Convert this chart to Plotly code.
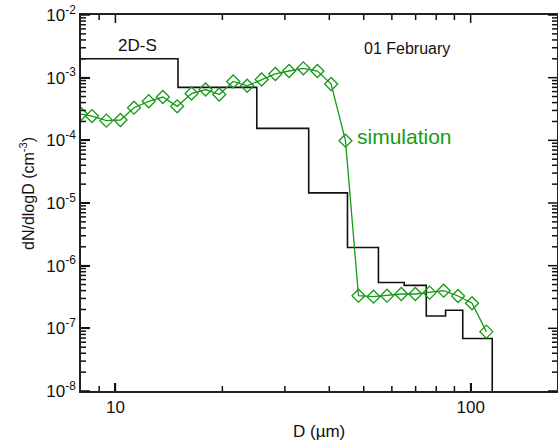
import math
import plotly.graph_objects as go

# ---- data ----
# 2D-S measured size distribution (bin edges in um, dN/dlogD in cm^-3)
obs_edges = [5, 15, 25, 35, 45, 55, 65, 75, 85, 95, 105, 115]
obs_values = [2.0e-3, 7.0e-4, 1.55e-4, 1.45e-5, 1.95e-6, 5.4e-7, 4.85e-7,
              1.57e-7, 1.94e-7, 6.9e-8, 6.9e-8]
obs_floor = 1e-12  # no counts beyond the last bin

# simulated size distribution
sim_d = [8.0, 8.59, 9.43, 10.33, 11.28, 12.41, 13.60, 14.92, 16.38, 17.94,
         19.60, 21.46, 23.50, 25.80, 28.19, 30.81, 33.81, 37.03, 40.48, 44.42,
         48.33, 53.28, 58.13, 63.77, 69.86, 76.64, 83.93, 92.15, 100.9, 110.7]
sim_n = [2.63e-4, 2.44e-4, 2.06e-4, 2.11e-4, 3.32e-4, 4.20e-4, 4.91e-4, 3.49e-4,
         5.59e-4, 6.47e-4, 5.39e-4, 8.69e-4, 7.42e-4, 9.35e-4, 1.145e-3,
         1.277e-3, 1.411e-3, 1.277e-3, 7.93e-4, 9.87e-5, 3.32e-7, 3.20e-7,
         3.32e-7, 3.53e-7, 3.53e-7, 3.71e-7, 3.99e-7, 3.28e-7, 2.51e-7, 8.85e-8]

x_range = [8, 175]
y_range = [1e-8, 1e-2]
x_major = [10, 100]
x_major_text = ["10", "100"]
y_major = [1e-8, 1e-7, 1e-6, 1e-5, 1e-4, 1e-3, 1e-2]
y_major_text = ["10<sup>-8</sup>", "10<sup>-7</sup>", "10<sup>-6</sup>",
                "10<sup>-5</sup>", "10<sup>-4</sup>", "10<sup>-3</sup>",
                "10<sup>-2</sup>"]
x_minor = [9, 20, 30, 40, 50, 60, 70, 80, 90]
y_minor = [m * 10.0 ** e for e in range(-8, -2) for m in range(2, 10)]

GREEN = "#169a16"
INK = "#111111"
FONT = "Liberation Sans, Arial, sans-serif"

W, H = 558, 441
M = dict(l=81, r=1, t=15, b=50)
PW = W - M["l"] - M["r"]
PH = H - M["t"] - M["b"]

xr = [math.log10(x_range[0]), math.log10(x_range[1])]
yr = [math.log10(y_range[0]), math.log10(y_range[1])]


def xfrac(v):
    return (math.log10(v) - xr[0]) / (xr[1] - xr[0])


def yfrac(v):
    return (math.log10(v) - yr[0]) / (yr[1] - yr[0])


fig = go.Figure()
fig.add_trace(go.Scatter(
    x=obs_edges, y=obs_values + [obs_floor], mode="lines",
    line=dict(shape="hv", color="#111111", width=1.6),
    showlegend=False))
fig.add_trace(go.Scatter(
    x=sim_d, y=sim_n, mode="lines+markers",
    line=dict(color=GREEN, width=1.3),
    marker=dict(symbol="diamond-open", size=10, color=GREEN,
                line=dict(width=1.3, color=GREEN)),
    showlegend=False))

tickfont = dict(family=FONT, size=17, color="#111111")
fig.update_layout(
    xaxis=dict(type="log", range=xr, showgrid=False, zeroline=False,
               showline=True, linecolor="#222222", linewidth=1.5, mirror=True,
               ticks="inside", ticklen=8, tickwidth=1.5, tickcolor=INK,
               tickvals=x_major, ticktext=x_major_text, tickfont=tickfont,
               automargin=False),
    yaxis=dict(type="log", range=yr, showgrid=False, zeroline=False,
               showline=True, linecolor="#222222", linewidth=1.5, mirror=True,
               ticks="inside", ticklen=9, tickwidth=1.5, tickcolor=INK,
               tickvals=y_major, ticktext=y_major_text, tickfont=tickfont,
               automargin=False),
)

# tick marks on all four sides (major long, minor short)
shapes = []
tick_line = dict(color=INK, width=1.5)
for vals, length in ((x_major, 8), (x_minor, 5)):
    for v in vals:
        f = xfrac(v)
        if 0 <= f <= 1:
            d = length / PH
            shapes.append(dict(type="line", xref="paper", yref="paper",
                               x0=f, x1=f, y0=0, y1=d, line=tick_line))
            shapes.append(dict(type="line", xref="paper", yref="paper",
                               x0=f, x1=f, y0=1, y1=1 - d, line=tick_line))
for vals, length in ((y_major, 9), (y_minor, 5)):
    for v in vals:
        f = yfrac(v)
        if 0 <= f <= 1:
            d = length / PW
            shapes.append(dict(type="line", xref="paper", yref="paper",
                               x0=0, x1=d, y0=f, y1=f, line=tick_line))
            shapes.append(dict(type="line", xref="paper", yref="paper",
                               x0=1, x1=1 - d, y0=f, y1=f, line=tick_line))
fig.update_layout(shapes=shapes)

# axis titles
fig.add_annotation(text="D (\u00b5m)", xref="paper", yref="paper", x=0.5, y=-0.109,
                   xanchor="center", yanchor="middle", showarrow=False,
                   font=dict(family=FONT, size=17, color="#111111"))
fig.add_annotation(text="dN/dlogD (cm<sup>-3</sup>)", xref="paper", yref="paper",
                   x=-0.1134, y=0.524, textangle=-90,
                   xanchor="center", yanchor="middle", showarrow=False,
                   font=dict(family=FONT, size=16, color="#111111"))

# in-plot labels
fig.add_annotation(text="2D-S", xref="paper", yref="paper", x=0.0735, y=0.918,
                   xanchor="left", yanchor="middle", showarrow=False,
                   font=dict(family=FONT, size=17, color="#111111"))
fig.add_annotation(text="01 February", xref="paper", yref="paper", x=0.59, y=0.912,
                   xanchor="left", yanchor="middle", showarrow=False,
                   font=dict(family=FONT, size=16, color="#111111"))
fig.add_annotation(text="simulation", xref="paper", yref="paper", x=0.5756, y=0.678,
                   xanchor="left", yanchor="middle", showarrow=False,
                   font=dict(family=FONT, size=21, color=GREEN))

fig.update_layout(
    width=W, height=H,
    margin=M,
    paper_bgcolor="white", plot_bgcolor="white",
    font=dict(family=FONT, color="#111111"),
)

fig.write_html(
    "out.html",
    config={"displayModeBar": False},
    post_script="document.body.style.margin='0';document.body.style.overflow='hidden';",
)
